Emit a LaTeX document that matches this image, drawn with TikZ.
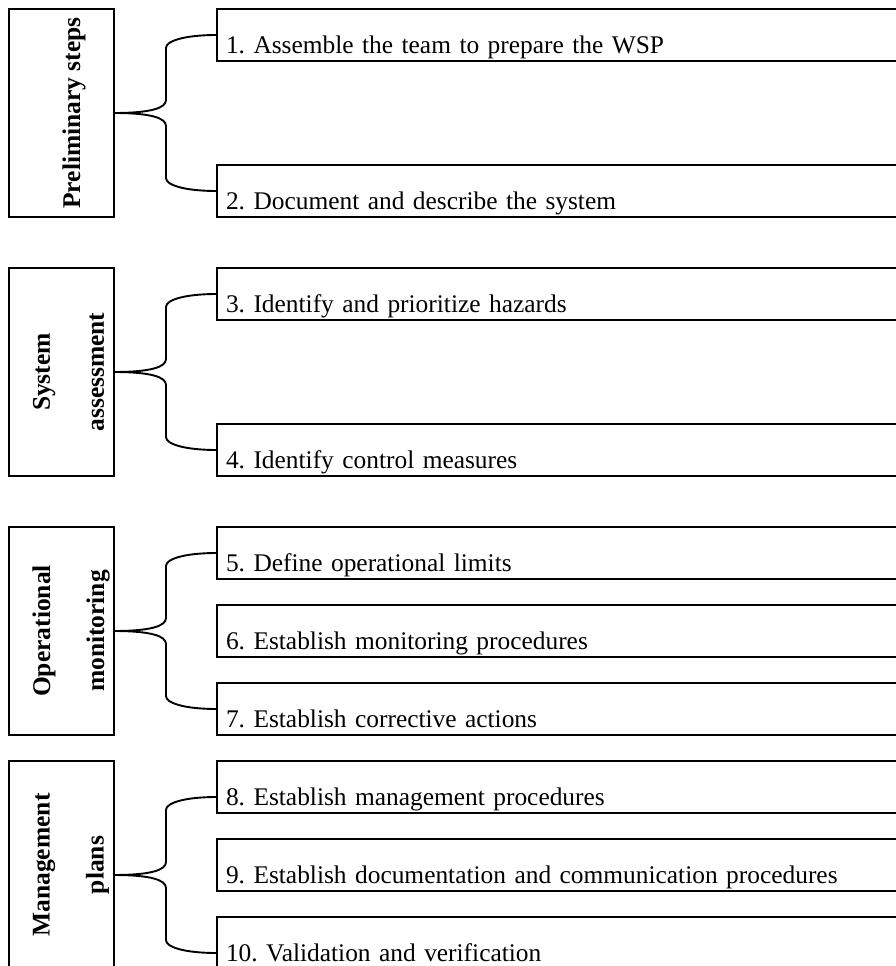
\documentclass[tikz,border=0pt]{standalone}
\usepackage{fontspec}
\setmainfont{Liberation Serif}
\usetikzlibrary{calc}
\frenchspacing

\tikzset{
  phase/.style={draw, line width=1.9pt, minimum width=105pt, minimum height=208pt, inner sep=0pt, outer sep=0pt},
  phaselabel/.style={rotate=90, align=center, inner sep=0pt, font=\bfseries\fontsize{25.5}{54}\selectfont},
  stepbox/.style={draw, line width=1.9pt, anchor=north west, text width=700pt, align=left,
    inner xsep=9pt, inner ysep=0pt, text height=44pt, text depth=8pt, outer sep=0pt,
    font=\fontsize{25.4}{30}\selectfont},
  bracelink/.style={line width=1.9pt, to path={let \p1=(\tikztostart), \p2=(\tikztotarget), \n1={sign(\y2-\y1)} in
    .. controls ({\x1+37pt},\y1) and ({\x1+52pt},{\y1+5pt*\n1}) .. ({\x1+52pt},{\y1+13pt*\n1})
    -- ({\x1+52pt},{\y2-13pt*\n1})
    .. controls ({\x1+52pt},{\y2-6pt*\n1}) and ({\x1+70pt},\y2) .. (\tikztotarget)}}
}

\begin{document}
\begin{tikzpicture}[x=1pt, y=-1pt]
\useasboundingbox (0,0) rectangle (895,966);

% phases
\node[phase] (prelim) at (61.5,113) {};
\node[phase] (sysass) at (61.5,372) {};
\node[phase] (opmon) at (61.5,631) {};
\node[phase] (mgmt) at (61.5,865) {};

\node[phaselabel] at ([xshift=12.5pt]prelim.center) {Preliminary steps};
\node[phaselabel] at ([xshift=7pt]sysass.center) {System\\assessment};
\node[phaselabel] at ([xshift=9.5pt]opmon.center) {Operational\\monitoring};
\node[phaselabel] at ([xshift=9.5pt]mgmt.center) {Management\\plans};

% steps
\foreach \n/\top/\txt in {1/9/{1. Assemble the team to prepare the WSP},
    2/165/{2. Document and describe the system},
    3/268/{3. Identify and prioritize hazards},
    4/424/{4. Identify control measures},
    5/527/{5. Define operational limits},
    6/605/{6. Establish monitoring procedures},
    7/683/{7. Establish corrective actions},
    8/761/{8. Establish management procedures},
    9/839/{9. Establish documentation and communication procedures},
    10/917/{10. Validation and verification}} {
  \node[stepbox] (s\n) at (217,\top) {\txt};
}

% braces
\draw[bracelink] (prelim.east) to (s1.west);
\draw[bracelink] (prelim.east) to (s2.west);
\draw[bracelink] (sysass.east) to (s3.west);
\draw[bracelink] (sysass.east) to (s4.west);
\draw[bracelink] (opmon.east) to (s5.west);
\draw[bracelink] (opmon.east) to (s7.west);
\draw[bracelink] ([yshift=-10pt]mgmt.east) to ([yshift=-10pt]s8.west);
\draw[bracelink] ([yshift=-10pt]mgmt.east) to ([yshift=-10pt]s10.west);

\end{tikzpicture}
\end{document}
